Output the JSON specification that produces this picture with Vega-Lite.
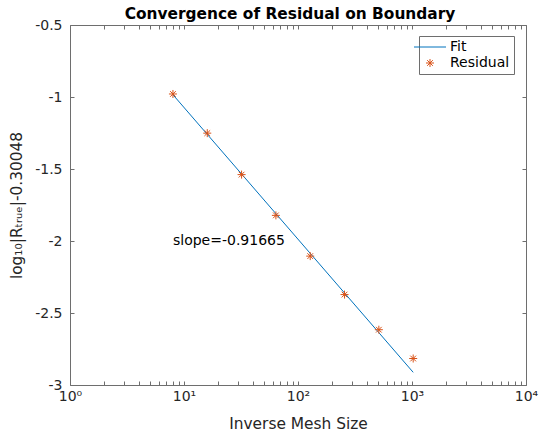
{
  "$schema": "https://vega.github.io/schema/vega-lite/v6.json",
  "width": 456,
  "height": 360,
  "autosize": {"type": "none"},
  "padding": {"left": 70, "top": 25, "right": 13, "bottom": 51},
  "background": "white",
  "config": {
    "font": "DejaVu Sans",
    "view": {"stroke": "#6e6e6e", "strokeWidth": 1},
    "legend": {
      "orient": "none",
      "legendX": 349,
      "legendY": 11,
      "strokeColor": "#6e6e6e",
      "fillColor": "white",
      "padding": 4,
      "labelFontSize": 14,
      "labelColor": "#000000",
      "labelFont": "DejaVu Sans",
      "symbolSize": 64,
      "symbolStrokeWidth": 1,
      "labelOffset": 13,
      "rowPadding": 2,
      "cornerRadius": 0
    }
  },
  "title": {
    "text": "Convergence of Residual on Boundary",
    "font": "DejaVu Sans",
    "fontSize": 15.4,
    "fontWeight": "bold",
    "color": "#000000",
    "anchor": "middle",
    "offset": -4,
    "dx": -8
  },
  "datasets": {
    "fit": [
      {"n": 8, "f": -0.984, "series": "Fit"},
      {"n": 1024, "f": -2.912, "series": "Fit"}
    ],
    "pts": [
      {"n": 8, "r": -0.979, "series": "Residual"},
      {"n": 16, "r": -1.251, "series": "Residual"},
      {"n": 32, "r": -1.539, "series": "Residual"},
      {"n": 64, "r": -1.822, "series": "Residual"},
      {"n": 128, "r": -2.105, "series": "Residual"},
      {"n": 256, "r": -2.372, "series": "Residual"},
      {"n": 512, "r": -2.616, "series": "Residual"},
      {"n": 1024, "r": -2.816, "series": "Residual"}
    ],
    "txt": [
      {"n": 8, "y": -2, "label": "slope=-0.91665"}
    ]
  },
  "resolve": {"axis": {"x": "independent", "y": "independent"}},
  "layer": [
    {
      "data": {"name": "fit"},
      "mark": {"type": "line", "color": "#0072BD", "strokeWidth": 1},
      "encoding": {
        "x": {
          "field": "n", "type": "quantitative",
          "scale": {"type": "log", "domain": [1, 10000], "nice": false},
          "axis": {
            "orient": "bottom",
            "values": [1,2,3,4,5,6,7,8,9,10,20,30,40,50,60,70,80,90,100,200,300,400,500,600,700,800,900,1000,2000,3000,4000,5000,6000,7000,8000,9000,10000],
            "labelExpr": "indexof([1,10,100,1000,10000], datum.value) >= 0 ? '10' + ['⁰','¹','²','³','⁴'][round(log(datum.value)/LN10)] : ''",
            "tickSize": -4,
            "tickColor": "#6e6e6e",
            "domain": false,
            "grid": false,
            "labelFontSize": 14,
            "labelColor": "#262626",
            "labelPadding": 8,
            "labelFlush": false,
            "labelOverlap": false,
            "title": "Inverse Mesh Size",
            "titleFontSize": 15.4,
            "titleFontWeight": "normal",
            "titleColor": "#262626",
            "titlePadding": 13
          }
        },
        "y": {
          "field": "f", "type": "quantitative",
          "scale": {"domain": [-3, -0.5], "nice": false, "zero": false},
          "axis": {
            "orient": "left",
            "values": [-3, -2.5, -2, -1.5, -1, -0.5],
            "labelExpr": "'' + datum.value",
            "tickSize": -4,
            "tickColor": "#6e6e6e",
            "domain": false,
            "grid": false,
            "labelFontSize": 14,
            "labelColor": "#262626",
            "labelPadding": 12,
            "labelFlush": false,
            "labelOverlap": false,
            "title": "log₁₀|Rₜᵣᵤₑ|-0.30048",
            "titleFontSize": 15.4,
            "titleFontWeight": "normal",
            "titleColor": "#262626",
            "titlePadding": 10
          }
        },
        "color": {
          "field": "series", "type": "nominal",
          "scale": {"domain": ["Fit", "Residual"], "range": ["#0072BD", "#D95319"]},
          "legend": {"title": null}
        }
      }
    },
    {
      "data": {"name": "pts"},
      "mark": {"type": "point", "filled": false, "size": 64, "strokeWidth": 1, "opacity": 1},
      "encoding": {
        "x": {
          "field": "n", "type": "quantitative",
          "scale": {"type": "log", "domain": [1, 10000], "nice": false},
          "axis": {
            "orient": "top",
            "values": [1,2,3,4,5,6,7,8,9,10,20,30,40,50,60,70,80,90,100,200,300,400,500,600,700,800,900,1000,2000,3000,4000,5000,6000,7000,8000,9000,10000],
            "labels": false,
            "tickSize": -4,
            "tickColor": "#6e6e6e",
            "domain": false,
            "grid": false,
            "title": null
          }
        },
        "y": {
          "field": "r", "type": "quantitative",
          "scale": {"domain": [-3, -0.5], "nice": false, "zero": false},
          "axis": {
            "orient": "right",
            "values": [-3, -2.5, -2, -1.5, -1, -0.5],
            "labels": false,
            "tickSize": -4,
            "tickColor": "#6e6e6e",
            "domain": false,
            "grid": false,
            "title": null
          }
        },
        "color": {
          "field": "series", "type": "nominal",
          "scale": {"domain": ["Fit", "Residual"], "range": ["#0072BD", "#D95319"]},
          "legend": {"title": null}
        },
        "shape": {
          "field": "series", "type": "nominal",
          "scale": {"domain": ["Fit", "Residual"], "range": ["M-4,0L4,0", "M-1,0L1,0M0,-1L0,1M-0.71,-0.71L0.71,0.71M-0.71,0.71L0.71,-0.71"]},
          "legend": {"title": null}
        }
      }
    },
    {
      "data": {"name": "txt"},
      "mark": {"type": "text", "align": "left", "baseline": "middle", "fontSize": 14, "color": "#000000", "font": "DejaVu Sans"},
      "encoding": {
        "x": {"field": "n", "type": "quantitative", "scale": {"type": "log", "domain": [1, 10000], "nice": false}, "axis": null},
        "y": {"field": "y", "type": "quantitative", "scale": {"domain": [-3, -0.5], "nice": false, "zero": false}, "axis": null},
        "text": {"field": "label"}
      }
    }
  ]
}
